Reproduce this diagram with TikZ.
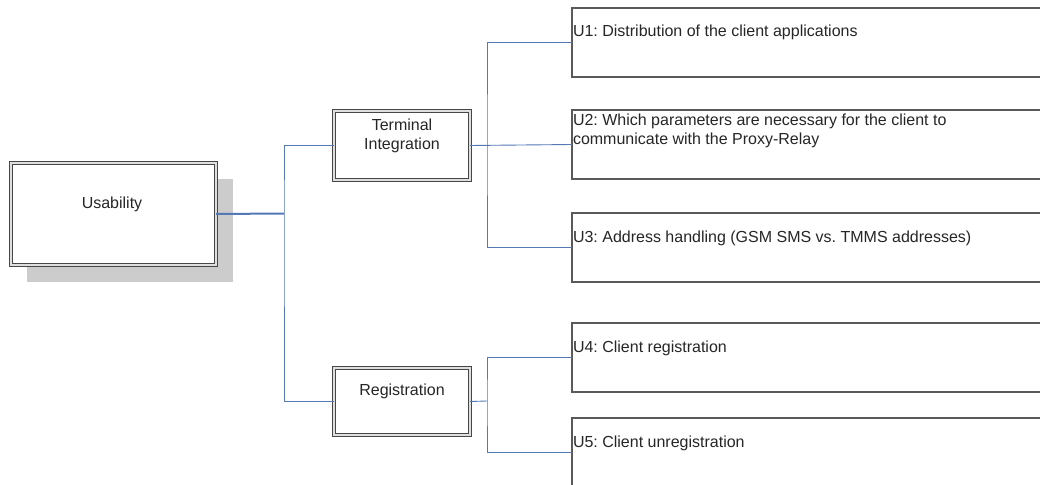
\documentclass[tikz,border=0pt]{standalone}
\usepackage{fontspec}
\setmainfont{Liberation Sans}
\frenchspacing
\begin{document}
\begin{tikzpicture}[x=1pt,y=-1pt,
  font=\fontsize{16}{19.5}\selectfont,
  every node/.style={inner sep=0pt, outer sep=0pt},
  conn/.style={draw={rgb,255:red,84;green,121;blue,181}, line width=0.9pt},
  mainconn/.style={conn, line width=2pt},
  dbox/.style={draw=black!72, line width=1.6pt, double=gray!25, double distance=1.2pt, fill=white, anchor=north west},
  sbox/.style={draw=black!65, line width=1.7pt, fill=white, anchor=north west, minimum width=500pt, minimum height=69pt},
  txt/.style={text=black!85, align=left, anchor=west},
  ctxt/.style={text=black!85, align=center}
]
\useasboundingbox (0,0) rectangle (1040,484);
\clip (0,0) rectangle (1040,484);
\fill[white] (0,0) rectangle (1040,484);

% shadow of Usability
\fill[gray!40] (27,179) rectangle (233,282);

% left boxes
\node[dbox, minimum width=205pt, minimum height=102pt] (usab) at (11,163) {};
\node[dbox, minimum width=136pt, minimum height=69pt] (term) at (334,111) {};
\node[dbox, minimum width=136pt, minimum height=67pt] (reg) at (334,368) {};

\node[ctxt] (usabt) at (112,204) {Usability};
\node[ctxt] (termt) at (402,136) {Terminal\\Integration};
\node[ctxt] (regt) at (402,391) {Registration};

% right boxes
\node[sbox] (u1) at (572,8) {};
\node[sbox] (u2) at (572,110) {};
\node[sbox] (u3) at (572,213) {};
\node[sbox] (u4) at (572,323) {};
\node[sbox] (u5) at (572,418) {};

\node[txt] (u1t) at (573,32) {U1: Distribution of the client applications};
\node[txt] (u2t) at (573,131) {U2: Which parameters are necessary for the client to\\communicate with the Proxy-Relay};
\node[txt] (u3t) at (573,238) {U3: Address handling (GSM SMS vs. TMMS addresses)};
\node[txt] (u4t) at (573,348) {U4: Client registration};
\node[txt] (u5t) at (573,443) {U5: Client unregistration};

% junctions
\coordinate (ja) at (284,213.5);
\coordinate (jb) at (487,145);
\coordinate (jc) at (487,401);

% connectors
\draw[mainconn] (usab.east) -- (ja);
\draw[conn] (term.west) -| (ja) |- (reg.west);
\draw[conn] (term.east) -- (u2.west);
\draw[conn] (u1.west) -| (jb) |- (u3.west);
\draw[conn] (reg.east) -- (jc);
\draw[conn] (u4.west) -| (jc) |- (u5.west);
\end{tikzpicture}
\end{document}
